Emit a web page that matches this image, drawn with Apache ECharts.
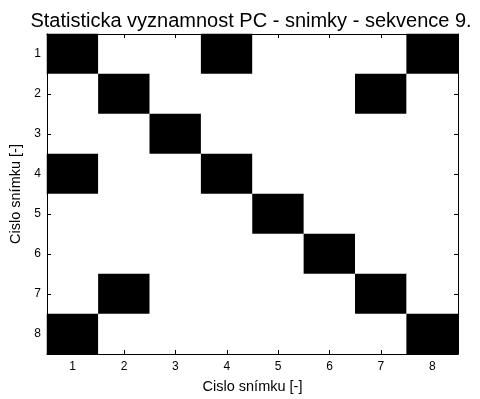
<!DOCTYPE html>
<html>
<head>
<meta charset="utf-8">
<script src="https://cdn.jsdelivr.net/npm/echarts@6/dist/echarts.min.js"></script>
<style>html,body{margin:0;padding:0;background:#fff}#c{width:480px;height:399px}</style>
</head>
<body>
<div id="c"></div>
<script>
const titleText = 'Statisticka vyznamnost PC - snimky - sekvence 9.';
const xName = 'Cislo snímku [-]';
const yName = 'Cislo snímku [-]';
const xLabels = ['1','2','3','4','5','6','7','8'];
const yLabels = ['1','2','3','4','5','6','7','8'];
// 1 = significant (black), 0 = not significant (white); rows = y, columns = x
const significance = [
  [1,0,0,1,0,0,0,1],
  [0,1,0,0,0,0,1,0],
  [0,0,1,0,0,0,0,0],
  [1,0,0,1,0,0,0,0],
  [0,0,0,0,1,0,0,0],
  [0,0,0,0,0,1,0,0],
  [0,1,0,0,0,0,1,0],
  [1,0,0,0,0,0,0,1]
];

const cells = [];
significance.forEach((row, yi) => row.forEach((v, xi) => cells.push([xi, yi, v])));

const font = 'Arial, "Liberation Sans", Helvetica, sans-serif';
const tickStyle = {show: true, inside: true, length: 4, alignWithLabel: true, lineStyle: {color: '#000', width: 1}};
const lineStyle = {show: true, lineStyle: {color: '#000', width: 1}};

const chart = echarts.init(document.getElementById('c'), null, {renderer: 'canvas'});
chart.setOption({
  animation: false,
  backgroundColor: '#fff',
  title: {
    text: titleText, left: 246, top: 6, textAlign: 'center',
    textStyle: {fontFamily: font, fontSize: 20, fontWeight: 'normal', color: '#000'}
  },
  grid: {left: 47, right: 22, top: 34, bottom: 40, containLabel: false},
  xAxis: [
    {type: 'category', data: xLabels, position: 'bottom', name: xName, nameLocation: 'middle', nameGap: 25, z: 5,
     nameTextStyle: {fontFamily: font, fontSize: 14.5, color: '#000'},
     axisLine: lineStyle, axisTick: tickStyle, splitLine: {show: false}, splitArea: {show: false},
     axisLabel: {fontFamily: font, fontSize: 12, color: '#000', margin: 7}},
    {type: 'category', data: xLabels, position: 'top', z: 5,
     axisLine: lineStyle, axisTick: tickStyle, axisLabel: {show: false}, splitLine: {show: false}}
  ],
  yAxis: [
    {type: 'category', data: yLabels, inverse: true, position: 'left', name: yName, nameLocation: 'middle', nameGap: 20, z: 5,
     nameTextStyle: {fontFamily: font, fontSize: 14.5, color: '#000'},
     axisLine: lineStyle, axisTick: tickStyle, splitLine: {show: false}, splitArea: {show: false},
     axisLabel: {fontFamily: font, fontSize: 12, color: '#000', margin: 6}},
    {type: 'category', data: yLabels, inverse: true, position: 'right', z: 5,
     axisLine: lineStyle, axisTick: tickStyle, axisLabel: {show: false}, splitLine: {show: false}}
  ],
  visualMap: {
    show: false, type: 'piecewise', dimension: 2, seriesIndex: 0,
    pieces: [{value: 0, color: '#ffffff'}, {value: 1, color: '#000000'}]
  },
  series: [{
    type: 'heatmap', xAxisIndex: 0, yAxisIndex: 0, data: cells, z: 2,
    itemStyle: {borderWidth: 0}, emphasis: {disabled: true}
  }]
});
</script>
</body>
</html>
